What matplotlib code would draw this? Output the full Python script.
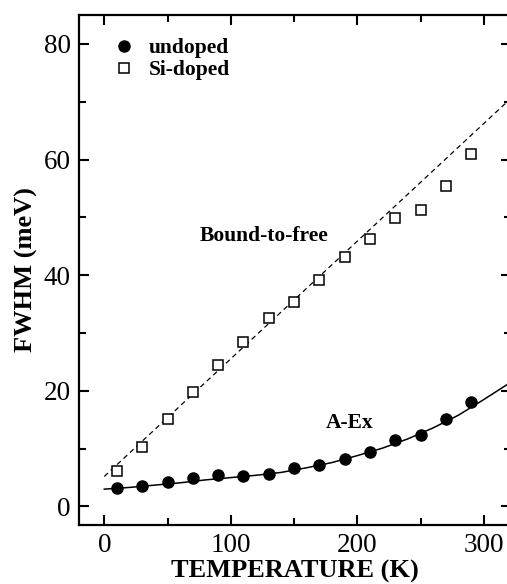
import matplotlib
matplotlib.use("Agg")
import matplotlib.pyplot as plt
from matplotlib.ticker import MultipleLocator

# measured points
temp = [10, 30, 50, 70, 90, 110, 130, 150, 170, 190, 210, 230, 250, 270, 290]
fwhm_undoped = [3.2, 3.6, 4.2, 5.0, 5.5, 5.3, 5.65, 6.6, 7.2, 8.2, 9.5, 11.5, 12.4, 15.2, 18.0]
fwhm_sidoped = [6.2, 10.3, 15.2, 19.8, 24.5, 28.5, 32.6, 35.3, 39.2, 43.1, 46.2, 49.9, 51.2, 55.4, 60.9]

# fit curves
fit_aex_t = [0, 20, 40, 60, 80, 100, 120, 140, 160, 180, 200, 220, 240, 260, 280, 300, 320]
fit_aex_y = [3.0, 3.3, 3.7, 4.1, 4.6, 5.0, 5.4, 5.9, 6.7, 7.6, 8.8, 10.1, 11.7, 13.6, 15.8, 18.5, 21.3]
fit_btf_t = [0, 320]
fit_btf_y = [5.2, 70.3]

plt.rcParams["font.family"] = ["Liberation Serif", "DejaVu Serif"]

fig = plt.figure(figsize=(5.07, 5.84), dpi=100)
ax = fig.add_axes([79 / 507, 59 / 584, 432 / 507, 510 / 584])

ax.plot(fit_btf_t, fit_btf_y, color="black", lw=0.9, ls=(0, (4, 3)))
ax.plot(fit_aex_t, fit_aex_y, color="black", lw=1.1)
ax.plot(temp, fwhm_undoped, "o", ms=8, color="black", label="undoped")
ax.plot(temp, fwhm_sidoped, "s", ms=7.5, mfc="white", mec="black", mew=1.1,
        label="Si-doped")

ax.set_xlim(-20, 321.5)
ax.set_ylim(-3.2, 85)
ax.xaxis.set_major_locator(MultipleLocator(100))
ax.xaxis.set_minor_locator(MultipleLocator(50))
ax.yaxis.set_major_locator(MultipleLocator(20))
ax.yaxis.set_minor_locator(MultipleLocator(10))
ax.tick_params(which="both", direction="in", top=True, right=True,
               width=1.5, labelsize=19.5, pad=6)
ax.tick_params(which="major", length=7)
ax.tick_params(which="minor", length=5)
for s in ax.spines.values():
    s.set_linewidth(1.6)

ax.set_xlabel("TEMPERATURE (K)", fontsize=19, fontweight="bold", labelpad=1)
ax.set_ylabel("FWHM (meV)", fontsize=19, fontweight="bold", labelpad=4)

ax.text(75.7, 46.8, "Bound-to-free", fontsize=15.5, fontweight="bold",
        va="center")
ax.text(175.4, 14.4, "A-Ex", fontsize=15.5, fontweight="bold", va="center")

ax.legend(loc="upper left", bbox_to_anchor=(0.045, 0.98), frameon=False,
          prop={"size": 15.5, "weight": "bold"}, handletextpad=0.55,
          labelspacing=0.1, handlelength=1.2, borderaxespad=0.2)

fig.savefig("out.png", dpi=100)
